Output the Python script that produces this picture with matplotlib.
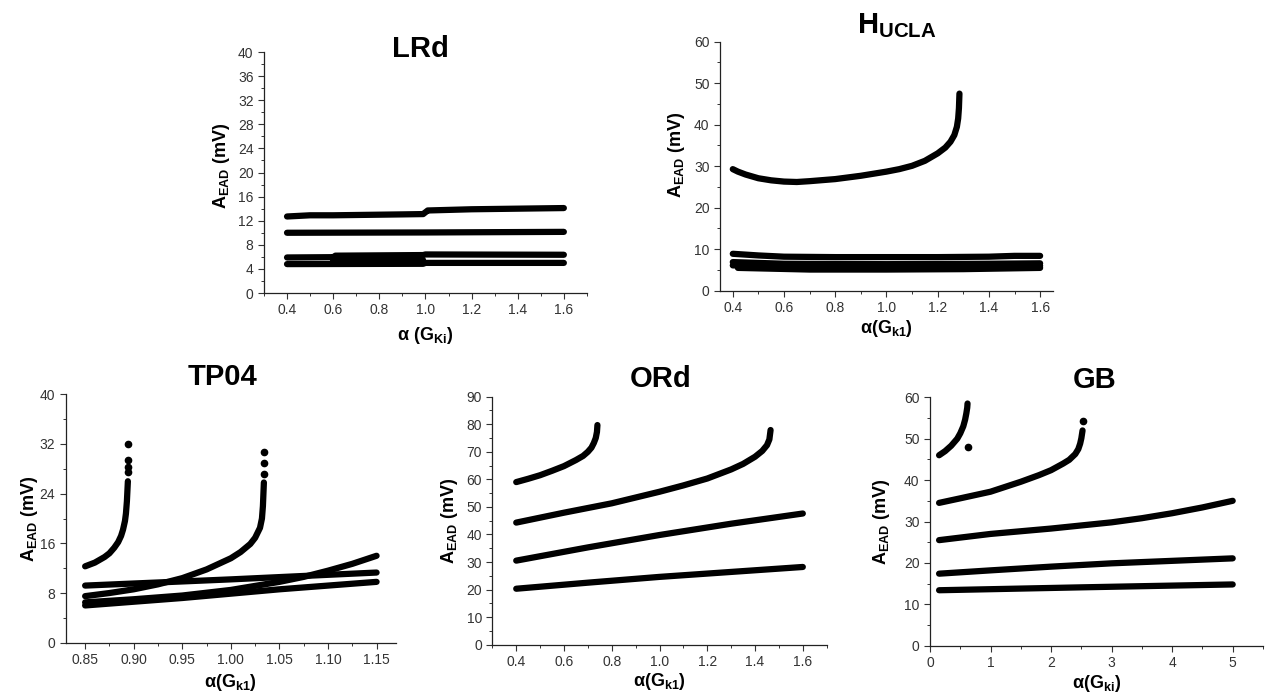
import matplotlib
matplotlib.use("Agg")
import matplotlib.pyplot as plt
from matplotlib.ticker import MultipleLocator, FuncFormatter

plt.rcParams["font.family"] = ["Liberation Sans", "DejaVu Sans"]
plt.rcParams["mathtext.fontset"] = "custom"
plt.rcParams["mathtext.rm"] = "Liberation Sans"
plt.rcParams["mathtext.bf"] = "Liberation Sans:bold"
plt.rcParams["mathtext.it"] = "Liberation Sans:italic"

# ============================
# Data
# ============================

# LRd
lrd_x = [
    [0.4, 0.5, 0.6, 0.7, 0.8, 0.9, 0.99, 1.0, 1.01, 1.2, 1.4, 1.6],
    [0.4, 1.0, 1.6],
    [0.4, 0.6, 0.61, 0.99, 1.0, 1.6],
    [0.6, 0.99],
    [0.4, 0.99, 1.0, 1.6],
]
lrd_y = [
    [12.7, 12.9, 12.9, 12.95, 13.0, 13.05, 13.1, 13.4, 13.7, 13.9, 14.0, 14.1],
    [10.0, 10.05, 10.15],
    [5.9, 5.95, 6.2, 6.3, 6.4, 6.35],
    [5.5, 5.5],
    [4.8, 4.85, 5.0, 5.0],
]

# H_UCLA
ucla_x = [
    [0.4, 0.42, 0.45, 0.5, 0.55, 0.6, 0.65, 0.7, 0.8, 0.9, 1.0, 1.05, 1.1,
     1.15, 1.2, 1.23, 1.25, 1.265, 1.275, 1.28, 1.283, 1.285],
    [0.4, 0.5, 0.6, 0.8, 1.0, 1.2, 1.4, 1.5, 1.6],
    [0.4, 0.6, 1.0, 1.4, 1.6],
    [0.4, 0.6, 1.0, 1.4, 1.6],
    [0.42, 0.7, 1.0, 1.3, 1.6],
]
ucla_y = [
    [29.3, 28.7, 28.0, 27.1, 26.6, 26.3, 26.2, 26.4, 26.9, 27.7, 28.7, 29.3, 30.1,
     31.3, 33.1, 34.5, 35.9, 37.5, 39.5, 41.5, 44.0, 47.5],
    [8.9, 8.5, 8.2, 8.1, 8.1, 8.1, 8.2, 8.4, 8.4],
    [6.9, 6.5, 6.4, 6.5, 6.6],
    [6.1, 5.9, 5.8, 5.9, 6.0],
    [5.5, 5.1, 5.1, 5.2, 5.5],
]

# TP04
tp_x = [
    [0.85, 0.86, 0.87, 0.875, 0.88, 0.884, 0.887, 0.889, 0.891, 0.892, 0.893, 0.894],
    [0.85, 0.875, 0.9, 0.925, 0.95, 0.975, 1.0, 1.01, 1.02, 1.025, 1.03, 1.032,
     1.033, 1.034],
    [0.85, 1.0, 1.15],
    [0.85, 0.9, 0.95, 1.0, 1.05, 1.075, 1.1, 1.125, 1.15],
    [0.85, 0.9, 0.95, 1.0, 1.05, 1.1, 1.15],
]
tp_y = [
    [12.3, 12.9, 13.8, 14.4, 15.3, 16.2, 17.2, 18.2, 19.6, 20.8, 22.8, 26.0],
    [7.5, 8.0, 8.6, 9.4, 10.4, 11.8, 13.6, 14.6, 15.9, 16.9, 18.5, 20.0,
     22.0, 25.8],
    [9.2, 10.2, 11.3],
    [6.5, 7.0, 7.6, 8.5, 9.8, 10.6, 11.6, 12.7, 14.0],
    [6.0, 6.6, 7.2, 7.9, 8.6, 9.2, 9.8],
]
tp_dot_x = [0.894, 0.894, 0.894, 0.894, 1.034, 1.034, 1.034]
tp_dot_y = [27.5, 28.3, 29.5, 32.0, 27.2, 29.0, 30.7]

# ORd
ord_x = [
    [0.4, 0.45, 0.5, 0.55, 0.6, 0.65, 0.68, 0.7, 0.715, 0.725, 0.733, 0.738, 0.74],
    [0.4, 0.6, 0.8, 1.0, 1.1, 1.2, 1.3, 1.35, 1.4, 1.43, 1.45, 1.46, 1.465],
    [0.4, 0.7, 1.0, 1.3, 1.6],
    [0.4, 0.7, 1.0, 1.3, 1.6],
]
ord_y = [
    [59.0, 60.2, 61.5, 63.1, 64.8, 67.0, 68.5, 70.0, 71.5, 73.2, 75.0, 77.2, 79.7],
    [44.3, 47.9, 51.3, 55.5, 57.8, 60.3, 63.6, 65.6, 68.2, 70.3, 72.4, 74.5, 77.9],
    [30.5, 35.3, 39.8, 43.9, 47.6],
    [20.3, 22.5, 24.6, 26.4, 28.2],
]

# GB
gb_x = [
    [0.15, 0.25, 0.35, 0.45, 0.5, 0.55, 0.58, 0.6, 0.615, 0.62],
    [0.15, 0.5, 1.0, 1.5, 1.8, 2.0, 2.2, 2.3, 2.4, 2.45, 2.48, 2.5, 2.52],
    [0.15, 1, 2, 3, 3.5, 4, 4.5, 5],
    [0.15, 1, 2, 3, 4, 5],
    [0.15, 2.5, 5],
]
gb_y = [
    [46.0, 47.0, 48.3, 50.0, 51.3, 53.0, 54.6, 56.1, 57.5, 58.5],
    [34.5, 35.6, 37.2, 39.6, 41.2, 42.4, 44.0, 44.9, 46.3, 47.5, 48.8, 50.1, 52.0],
    [25.5, 27.0, 28.3, 29.8, 30.8, 32.0, 33.4, 35.0],
    [17.4, 18.2, 19.1, 19.9, 20.5, 21.1],
    [13.4, 14.1, 14.8],
]
gb_dot_x = [0.62, 2.53]
gb_dot_y = [48.0, 54.2]

# ============================
# Figure
# ============================

fig = plt.figure(figsize=(12.66, 6.98), dpi=100)

ylab = r"A$_{\mathbf{EAD}}$ (mV)"


def panel(rect, xs, ys, xlim, ylim, xmaj, xmin, ymaj, ymin, title, title_pos,
          xlabel, xlab_y, ylab_pos, xfmt=None):
    ax = fig.add_axes(rect)
    for x, y in zip(xs, ys):
        ax.plot(x, y, color="black", lw=4.5, solid_capstyle="round",
                solid_joinstyle="round")
    ax.set_xlim(*xlim)
    ax.set_ylim(*ylim)
    ax.xaxis.set_major_locator(MultipleLocator(xmaj))
    ax.xaxis.set_minor_locator(MultipleLocator(xmin))
    ax.yaxis.set_major_locator(MultipleLocator(ymaj))
    ax.yaxis.set_minor_locator(MultipleLocator(ymin))
    if xfmt:
        ax.xaxis.set_major_formatter(xfmt)
    for s in ["top", "right"]:
        ax.spines[s].set_visible(False)
    for s in ["left", "bottom"]:
        ax.spines[s].set_color("#222222")
        ax.spines[s].set_linewidth(0.9)
    ax.tick_params(which="major", direction="out", length=4, width=0.8,
                   colors="#333333", labelsize=10)
    ax.tick_params(which="minor", direction="out", length=2, width=0.7,
                   colors="#333333")
    ax.set_ylabel(ylab, fontsize=13, fontweight="bold")
    ax.yaxis.set_label_coords(*ylab_pos)
    ax.set_xlabel(xlabel, fontsize=13, fontweight="bold", va="top")
    ax.xaxis.set_label_coords(0.5, xlab_y)
    ax.text(title_pos[0], title_pos[1], title, transform=ax.transAxes,
            ha="center", va="baseline", fontsize=21, fontweight="bold")
    return ax


fmt1 = FuncFormatter(lambda v, p: f"{v:.1f}")
fmt2 = FuncFormatter(lambda v, p: f"{v:.2f}")

ax1 = panel([0.2085, 0.5802, 0.2551, 0.3453], lrd_x, lrd_y, (0.3, 1.7), (0, 40),
            0.2, 0.1, 4, 2, "LRd", (0.486, 0.979),
            r"α (G$_{\mathbf{Ki}}$)", -0.133, (-0.099, 0.527), fmt1)

ax2 = panel([0.5687, 0.5835, 0.2630, 0.3567], ucla_x, ucla_y, (0.35, 1.65), (0, 60),
            0.2, 0.1, 10, 5, r"H$_{\mathbf{UCLA}}$", (0.53, 1.034),
            r"α(G$_{\mathbf{k1}}$)", -0.111, (-0.099, 0.545), fmt1)

ax3 = panel([0.0519, 0.0792, 0.2609, 0.3559], tp_x, tp_y, (0.83, 1.17), (0, 40),
            0.05, 0.025, 8, 4, "TP04", (0.475, 1.037),
            r"α(G$_{\mathbf{k1}}$)", -0.118, (-0.078, 0.5), fmt2)
ax3.plot(tp_dot_x, tp_dot_y, "o", color="black", ms=4.5)

ax4 = panel([0.3889, 0.0764, 0.2641, 0.3553], ord_x, ord_y, (0.3, 1.7), (0, 90),
            0.2, 0.1, 10, 5, "ORd", (0.504, 1.04),
            r"α(G$_{\mathbf{k1}}$)", -0.106, (-0.097, 0.5), fmt1)

ax5 = panel([0.7346, 0.0749, 0.2630, 0.3559], gb_x, gb_y, (0, 5.5), (0, 60),
            1, 0.5, 10, 5, "GB", (0.495, 1.037),
            r"α(G$_{\mathbf{ki}}$)", -0.111, (-0.114, 0.5))
ax5.plot(gb_dot_x, gb_dot_y, "o", color="black", ms=4.5)

fig.savefig("out.png", dpi=100)
